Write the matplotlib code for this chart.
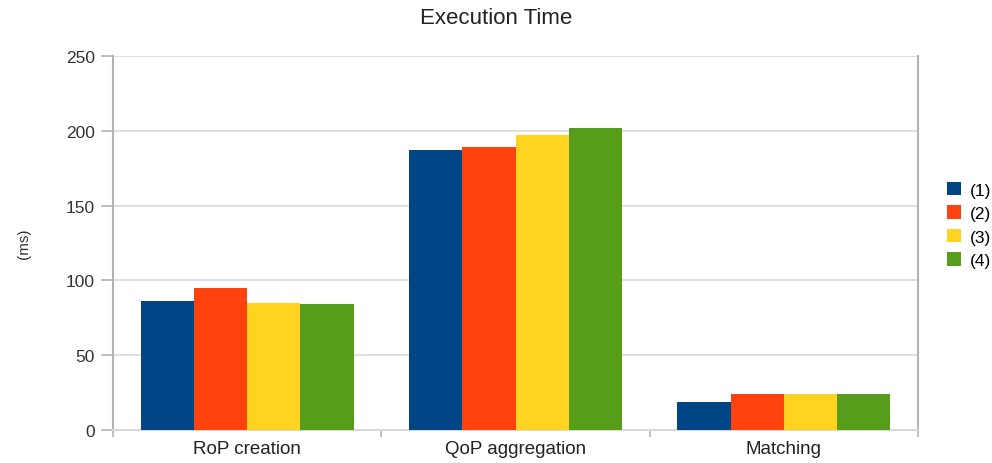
import matplotlib
matplotlib.use("Agg")
import matplotlib.pyplot as plt
import numpy as np

plt.rcParams['font.family'] = ['Liberation Sans', 'DejaVu Sans']

categories = ["RoP creation", "QoP aggregation", "Matching"]
series_names = ["(1)", "(2)", "(3)", "(4)"]
s1 = [86, 187, 19]
s2 = [95, 189, 24]
s3 = [85, 197, 24]
s4 = [84.5, 202, 24]
series = [s1, s2, s3, s4]
colors = ["#004586", "#ff420e", "#ffd320", "#579d1c"]
yticks = [0, 50, 100, 150, 200, 250]

fig = plt.figure(figsize=(9.92, 4.64), dpi=100)
ax = fig.add_axes([113/992, 1-431/464, (918-113)/992, (431-57)/464])

x = np.arange(len(categories))
n = len(series)
group_w = 0.795
bw = group_w / n
for i, (vals, c, name) in enumerate(zip(series, colors, series_names)):
    ax.bar(x - group_w/2 + bw*(i+0.5), vals, width=bw, color=c, label=name, zorder=3)

ax.set_xlim(-0.5, len(categories)-0.5)
ax.set_ylim(0, 250)
ax.set_yticks(yticks)
ax.set_yticklabels([str(t) for t in yticks], fontsize=12.5, color="#333333")
ax.set_xticks(x)
ax.set_xticklabels(categories, fontsize=13.5, color="#222222")
ax.tick_params(axis='x', length=0, pad=7)
ax.set_xticks(np.arange(len(categories)+1) - 0.5, minor=True)
ax.tick_params(axis='x', which='minor', length=5, color="#b3b3b3", width=1.2)
ax.tick_params(axis='y', length=9, color="#b3b3b3", width=1.2, pad=4)
ax.yaxis.grid(True, color="#d9d9d9", linewidth=1.2, zorder=0)
ax.set_axisbelow(True)
for s in ['left', 'right', 'bottom']:
    ax.spines[s].set_color("#b3b3b3")
    ax.spines[s].set_linewidth(1.5)
ax.spines['top'].set_visible(False)
ax.spines['bottom'].set_color("#d9d9d9")

ax.set_ylabel("(ms)", fontsize=11, color="#333333", labelpad=25)
fig.text(0.5, 1-18/464, "Execution Time", ha='center', va='center', fontsize=16, color="#222222")

leg = ax.legend(loc='center left', bbox_to_anchor=(1.036, 0.548), frameon=False,
                fontsize=12.5, handlelength=0.8, handleheight=0.8, handletextpad=0.5,
                labelspacing=0.45, borderaxespad=0, borderpad=0)

fig.savefig("out.png", dpi=100)
